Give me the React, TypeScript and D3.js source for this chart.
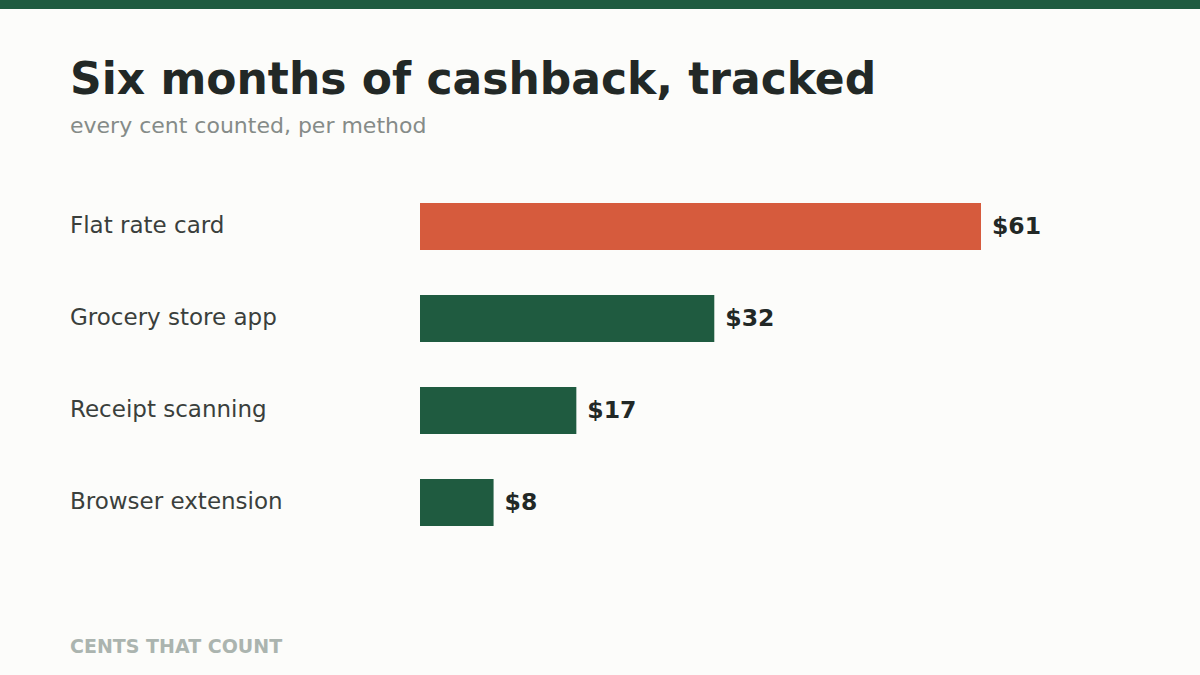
import React from "react";
import * as d3 from "d3";

const categories = ["Flat rate card", "Grocery store app", "Receipt scanning", "Browser extension"];
const values = [61, 32, 17, 8];
const highlight = "Flat rate card";

const W = 1200;
const H = 675;
const FONT = "'DejaVu Sans', sans-serif";

export default function App() {
  const x = d3.scaleLinear().domain([0, 61]).range([420, 981]);
  const y = d3
    .scaleBand()
    .domain(categories)
    .range([180.5, 548.5])
    .paddingInner(45 / 92)
    .paddingOuter(22.5 / 92);

  return (
    <svg width={W} height={H} style={{ position: "absolute", left: 0, top: 0 }} fontFamily={FONT}>
      <rect x={0} y={0} width={W} height={H} fill="#fcfcfa" />
      <rect x={0} y={0} width={W} height={9} fill="#1f5b40" />
      <text x={70} y={94} fontSize={44} fontWeight="bold" fill="#222826">
        Six months of cashback, tracked
      </text>
      <text x={70} y={133} fontSize={22} fill="#858b88">
        every cent counted, per method
      </text>
      {categories.map((c, i) => {
        const yy = y(c)!;
        const bw = y.bandwidth();
        const cy = yy + bw / 2;
        return (
          <g key={c}>
            <text x={70} y={cy} dy="0.3em" fontSize={23} fill="#3a3f3c">
              {c}
            </text>
            <rect
              x={x(0)}
              y={yy}
              width={x(values[i]) - x(0)}
              height={bw}
              fill={c === highlight ? "#d65b3d" : "#1f5b40"}
            />
            <text x={x(values[i]) + 11} y={cy} dy="0.33em" fontSize={23.5} fontWeight="bold" fill="#222826">
              {d3.format("$")(values[i])}
            </text>
          </g>
        );
      })}
      <text x={70} y={653} fontSize={19} fontWeight="bold" fill="#abb4af">
        CENTS THAT COUNT
      </text>
    </svg>
  );
}
